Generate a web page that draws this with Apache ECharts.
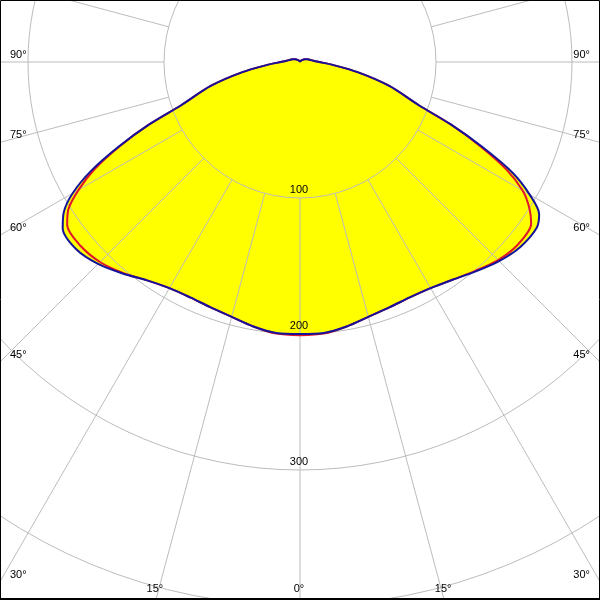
<!DOCTYPE html>
<html>
<head>
<meta charset="utf-8">
<style>html,body{margin:0;padding:0;background:#fff}#c{width:600px;height:600px}</style>
<script src="https://cdn.jsdelivr.net/npm/echarts@6/dist/echarts.min.js"></script>
</head>
<body>
<div id="c"></div>
<script>
// gamma angles (deg from nadir)
const gammaAngles = [0,5,10,15,20,25,30,35,40,45,50,55,57.5,60,62.5,65,67.5,70,75,80,85,90,95,100,110,120,135,150,165,180];
// blue curve (C90-C270) left / right halves, cd
const blueLeft  = [200,200,197.5,194,192,191,192,196,203,210,214.5,213,206,193,173,147,120,93,68,43,24,14,10,8,6,4,2,1,0.5,0];
const blueRight = [200,200,197.5,194,192,191,192,195.5,201,207,211.5,212.5,208.5,195,176,148,120,93,68,43,24,14,10,8,6,4,2,1,0.5,0];
// red curve (C0-C180) left / right halves, cd
const redLeft   = [201,200.5,197.5,194,192,191,192,196,202.5,208,210.5,209,202,188,170,146,120,93,68,43,24,14,10,8,6,4,2,1,0.5,0];
const redRight  = [201,200.5,197.5,194,192,191,192,195.5,200.5,206,209,207.5,200,189,171,146,120,93,68,43,24,14,10,8,6,4,2,1,0.5,0];
// grid / labels
const ringValues = [100,200,300];
const angleTicks = [0,15,30,45,60,75,90];

function toPolar(left, right){
  const pts = [];
  for (let i=0;i<gammaAngles.length;i++) pts.push([left[i], gammaAngles[i]]);
  for (let i=gammaAngles.length-2;i>=0;i--) pts.push([right[i], 360-gammaAngles[i]]);
  return pts;
}

const chart = echarts.init(document.getElementById('c'), null, {renderer:'canvas'});
const gridColor = '#bcbcbc';
chart.setOption({
  animation:false,
  backgroundColor:'#fff',
  polar:[
    {center:[300,62], radius:[0,680]},
    {center:[300,62], radius:[136,1000]}
  ],
  angleAxis:[
    {polarIndex:0, type:'value', min:0, max:360, startAngle:-90, clockwise:true,
     axisLine:{show:false}, axisTick:{show:false}, axisLabel:{show:false}, splitLine:{show:false}},
    {polarIndex:1, type:'value', min:0, max:360, interval:15, startAngle:-90, clockwise:true, z:3,
     axisLine:{show:false}, axisTick:{show:false}, axisLabel:{show:false},
     splitLine:{show:true, lineStyle:{color:gridColor, width:1}}}
  ],
  radiusAxis:[
    {polarIndex:0, type:'value', min:0, max:500, interval:100, z:3,
     axisLine:{show:false}, axisTick:{show:false}, axisLabel:{show:false},
     splitLine:{show:true, lineStyle:{color:gridColor, width:1}}},
    {polarIndex:1, type:'value', min:0, max:100,
     axisLine:{show:false}, axisTick:{show:false}, axisLabel:{show:false}, splitLine:{show:false}}
  ],
  series:[
    {type:'line', coordinateSystem:'polar', polarIndex:0, data:toPolar(blueLeft, blueRight),
     symbol:'none', smooth:0.3, z:1, lineStyle:{width:0}, areaStyle:{color:'#ffff00', opacity:1}, silent:true},
    {type:'line', coordinateSystem:'polar', polarIndex:0, data:toPolar(redLeft, redRight),
     symbol:'none', smooth:0.3, z:5, lineStyle:{width:2, color:'#e0142a'}},
    {type:'line', coordinateSystem:'polar', polarIndex:0, data:toPolar(blueLeft, blueRight),
     symbol:'none', smooth:0.3, z:6, lineStyle:{width:2, color:'#14149a'}}
  ]
});

const font = '11px "Liberation Sans", Arial, sans-serif';
const c = chart.convertToPixel({polarIndex:0}, [0,0]);
const W = 600, H = 600;
const graphics = [];
ringValues.forEach(v=>{
  const p = chart.convertToPixel({polarIndex:0}, [v,0]);
  graphics.push({type:'text', x:p[0]-1, y:p[1]-3, z:10,
    style:{text:String(v), font:font, fill:'#000', align:'center', verticalAlign:'bottom', textAlign:'center', textVerticalAlign:'bottom'}});
});
angleTicks.forEach(a=>{
  const vals = a===0 ? [0] : [a, 360-a];
  vals.forEach(av=>{
    const p = chart.convertToPixel({polarIndex:0}, [500, av]);
    const dx = p[0]-c[0], dy = p[1]-c[1];
    const tx = Math.abs(dx)<1e-6 ? Infinity : (dx<0 ? (0-c[0])/dx : (W-c[0])/dx);
    const ty = dy>1e-6 ? (H-c[1])/dy : Infinity;
    const txt = a+'°';
    if (ty <= tx) {
      const hx = c[0]+ty*dx;
      graphics.push({type:'text', x:hx-1, y:589, z:10,
        style:{text:txt, font:font, fill:'#000', align:'center', verticalAlign:'middle', textAlign:'center', textVerticalAlign:'middle'}});
    } else {
      const hy = c[1]+tx*dy;
      const left = dx<0;
      graphics.push({type:'text', x: left?10:590, y:hy-7, z:10,
        style:{text:txt, font:font, fill:'#000', align:left?'left':'right', verticalAlign:'middle', textAlign:left?'left':'right', textVerticalAlign:'middle'}});
    }
  });
});
graphics.push({type:'rect', z:20, shape:{x:0.5,y:0.5,width:599,height:598}, style:{fill:'none', stroke:'#000', lineWidth:1}});
graphics.push({type:'line', z:20, shape:{x1:0,y1:599,x2:600,y2:599}, style:{stroke:'#000', lineWidth:2}});
chart.setOption({graphic:graphics});
</script>
</body>
</html>
